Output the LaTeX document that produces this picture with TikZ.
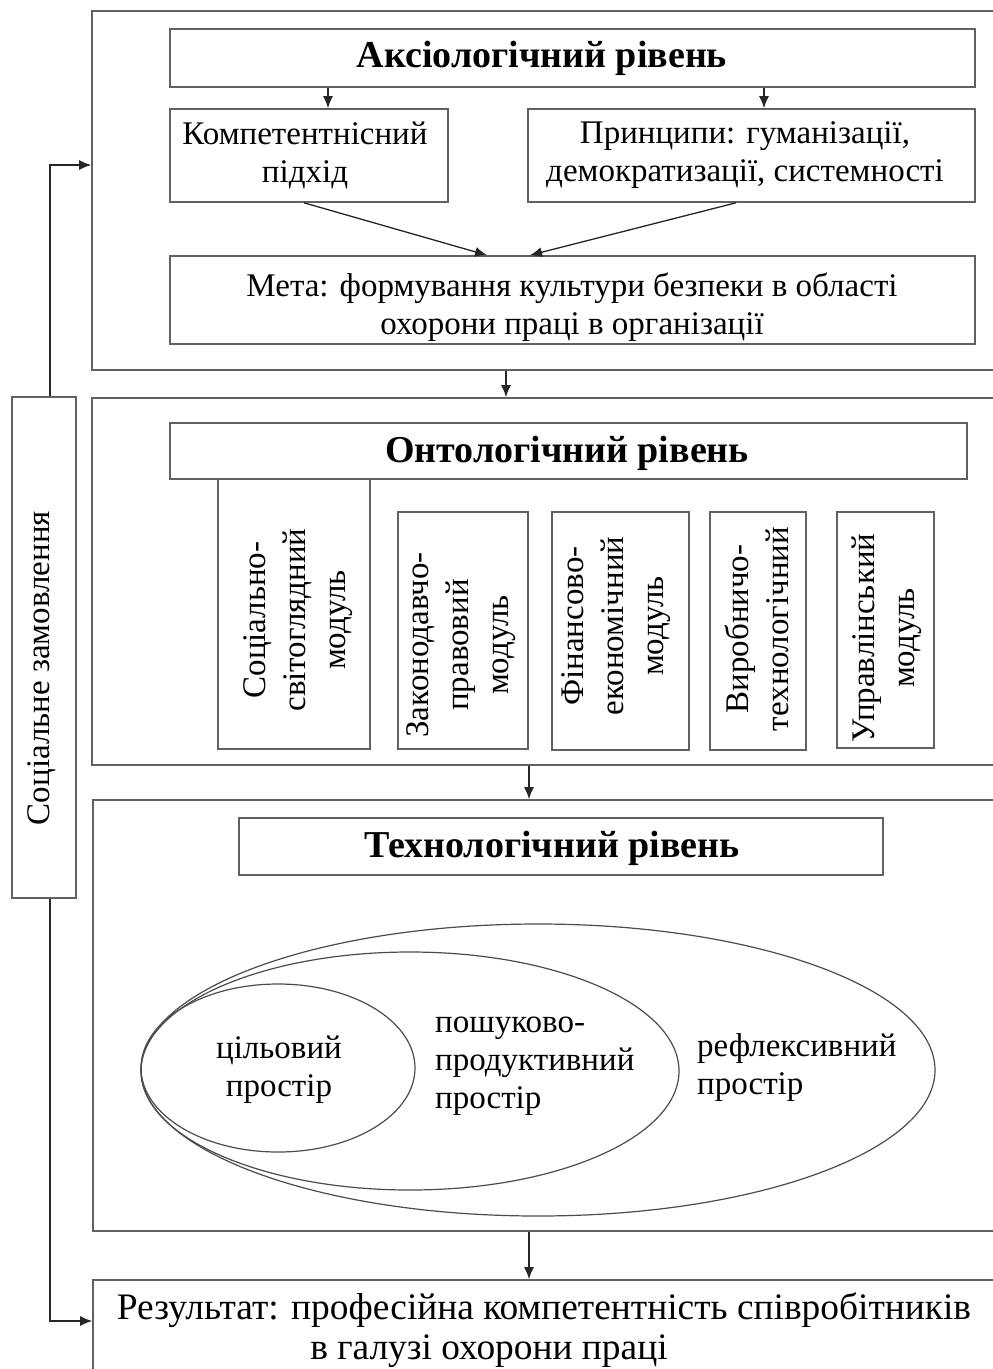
\documentclass[tikz,border=0pt]{standalone}
\usepackage{fontspec}
\setmainfont{Liberation Serif}
\usetikzlibrary{shapes.geometric,arrows.meta,calc}
\begin{document}
\begin{tikzpicture}[x=1pt,y=-1pt,
  box/.style={draw=black!62, line width=1.6pt, rectangle, inner sep=0pt},
  txt/.style={font=\fontsize{33}{38}\selectfont, align=center, inner sep=0pt},
  rtxt/.style={font=\fontsize{37.4}{42}\selectfont, align=center, inner sep=0pt},
  mtxt/.style={font=\fontsize{33}{40}\selectfont, align=center, inner sep=0pt, rotate=90},
  ttl/.style={font=\fontsize{38}{42}\selectfont\bfseries, inner sep=0pt},
  arr/.style={draw=black!85, line width=1.3pt, -{Latex[length=12pt,width=10pt]}},
  ell/.style={draw=black!70, line width=1.2pt, ellipse, inner sep=0pt}]
\useasboundingbox (0,0) rectangle (993,1369);
\fill[white] (0,0) rectangle (993,1369);
\clip (0,0) rectangle (993,1369);

% ---- Axiological level
\node[box, minimum width=908, minimum height=359] (axo) at (546,190.5) {};
\node[box, minimum width=805, minimum height=58] (axt) at (572.5,58) {};
\node[ttl] (axtt) at (542,58) {Аксіологічний рівень};
\node[box, minimum width=278, minimum height=93] (komp) at (309,155.5) {};
\node[txt] (kompt) at (305,155) {Компетентнісний\\підхід};
\node[box, minimum width=447, minimum height=93] (princ) at (751.5,155.5) {};
\node[txt] (princt) at (745,155) {Принципи: гуманізації,\\демократизації, системності};
\node[box, minimum width=805, minimum height=88] (meta) at (572.5,300) {};
\node[txt] (metat) at (572,307) {Мета: формування культури безпеки в області\\охорони праці в організації};

% ---- Ontological level
\node[box, minimum width=908, minimum height=367] (ono) at (546,581.5) {};
\node[box, minimum width=797, minimum height=56] (ont) at (568.5,451) {};
\node[ttl] (ontt) at (567,453) {Онтологічний рівень};
\node[box, minimum width=152, minimum height=270] (m1) at (294,614) {};
\node[box, minimum width=130, minimum height=237] (m2) at (463,630.5) {};
\node[box, minimum width=137, minimum height=238] (m3) at (620.5,631) {};
\node[box, minimum width=96, minimum height=238] (m4) at (758,631) {};
\node[box, minimum width=97, minimum height=236] (m5) at (885.5,630) {};
\node[mtxt] (m1t) at (298,620) {Соціально-\\світоглядний\\модуль};
\node[mtxt] (m2t) at (461,645) {Законодавчо-\\правовий\\модуль};
\node[mtxt] (m3t) at (616,626) {Фінансово-\\економічний\\модуль};
\node[mtxt] (m4t) at (757,629) {Виробничо-\\технологічний};
\node[mtxt] (m5t) at (887,638) {Управлінський\\модуль};

% ---- Technological level
\node[box, minimum width=907, minimum height=431] (teo) at (546.5,1015.5) {};
\node[box, minimum width=644, minimum height=57] (tet) at (561,846.5) {};
\node[ttl] (tett) at (552,848) {Технологічний рівень};
\node[ell, minimum width=794, minimum height=292] (e3) at (538,1070) {};
\node[ell, minimum width=538, minimum height=238] (e2) at (410,1071) {};
\node[ell, minimum width=274, minimum height=168] (e1) at (278,1068) {};
\node[txt] (e1t) at (279,1070) {цільовий\\простір};
\node[txt, align=left, anchor=west] (e2t) at (435,1066) {пошуково-\\продуктивний\\простір};
\node[txt, align=left, anchor=west] (e3t) at (697,1068) {рефлексивний\\простір};

% ---- Result
\node[box, minimum width=907, minimum height=110] (res) at (546.5,1335) {};
\node[rtxt] (res1) at (544,1310) {Результат: професійна компетентність співробітників};
\node[rtxt] (res2) at (489,1351) {в галузі охорони праці};

% ---- Social order
\node[box, minimum width=64, minimum height=501] (soc) at (44,647.5) {};
\node[font=\fontsize{33}{40}\selectfont, inner sep=0pt, rotate=90] (soct) at (42,668) {Соціальне замовлення};

% ---- connectors
\coordinate (c328) at (328,0);
\coordinate (c764) at (764,0);
\coordinate (c304) at (304,0);
\coordinate (c487) at (487,0);
\coordinate (c736) at (736,0);
\coordinate (c530) at (530,0);
\coordinate (c506) at (506,0);
\coordinate (c529) at (529,0);
\coordinate (c50) at (50,0);
\coordinate (y165) at (0,165);
\coordinate (y1321) at (0,1321);

\draw[arr] (c328 |- axt.south) -- (c328 |- komp.north);
\draw[arr] (c764 |- axt.south) -- (c764 |- princ.north);
\draw[arr] (c304 |- komp.south) -- (c487 |- meta.north);
\draw[arr] (c736 |- princ.south) -- (c530 |- meta.north);
\draw[arr] (c506 |- axo.south) -- (c506 |- ono.north);
\draw[arr] (c529 |- ono.south) -- (c529 |- teo.north);
\draw[arr] (c529 |- teo.south) -- (c529 |- res.north);
\draw[arr] (c50 |- soc.north) -- (c50 |- y165) -- (axo.west |- y165);
\draw[arr] (c50 |- soc.south) -- (c50 |- y1321) -- (res.west |- y1321);
\end{tikzpicture}
\end{document}
